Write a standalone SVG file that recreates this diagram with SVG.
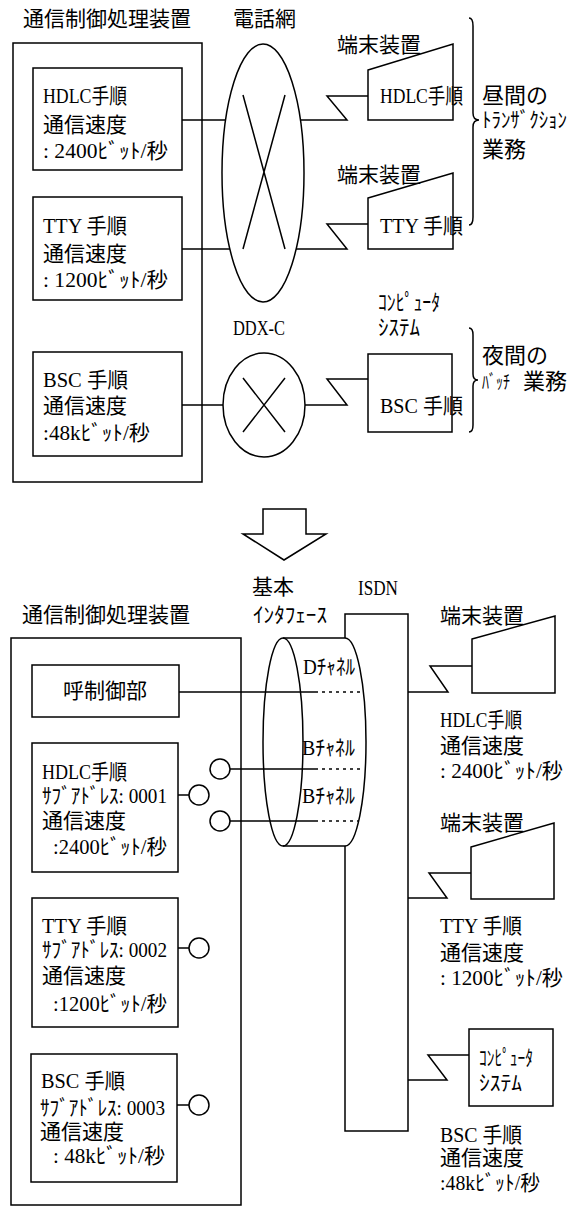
<svg xmlns="http://www.w3.org/2000/svg" width="579" height="1208" viewBox="0 0 579 1208">
<style>
.ln{fill:none;stroke:#000;stroke-width:1.5}
.dt{fill:none;stroke:#000;stroke-width:1.5;stroke-dasharray:3 4}
text{font-family:"Liberation Serif","Noto Sans CJK JP",sans-serif;font-size:21px;fill:#000}
.k{font-size:22px}
.l{font-size:22px}
</style>
<rect width="579" height="1208" fill="#fff"/>

<!-- ===== TOP: current system ===== -->
<g id="title-top">
<text x="23" y="26">通信制御処理装置</text>
<text x="233" y="26" font-size="20">電話網</text>
</g>
<g id="cpu-top">
<rect class="ln" x="13" y="43" width="189" height="439"/>
</g>
<g id="hdlc-top">
<rect class="ln" x="33" y="68" width="149" height="102"/>
<text x="43" y="103" textLength="84" lengthAdjust="spacingAndGlyphs">HDLC手順</text>
<text x="43" y="132">通信速度</text>
<text x="43" y="158" textLength="125" lengthAdjust="spacingAndGlyphs">: 2400ﾋﾞｯﾄ/秒</text>
</g>
<g id="tty-top">
<rect class="ln" x="33" y="197" width="149" height="103"/>
<text x="43" y="233" textLength="84" lengthAdjust="spacingAndGlyphs">TTY 手順</text>
<text x="43" y="261">通信速度</text>
<text x="43" y="287" textLength="125" lengthAdjust="spacingAndGlyphs">: 1200ﾋﾞｯﾄ/秒</text>
</g>
<g id="bsc-top">
<rect class="ln" x="33" y="352" width="149" height="104"/>
<text x="43" y="387" textLength="85" lengthAdjust="spacingAndGlyphs">BSC 手順</text>
<text x="43" y="413">通信速度</text>
<text x="43" y="440" textLength="107" lengthAdjust="spacingAndGlyphs">:48kﾋﾞｯﾄ/秒</text>
</g>
<g id="phone-net">
<ellipse class="ln" cx="263" cy="173" rx="41" ry="129"/>
<path class="ln" d="M243 95L285 249M285 95L243 249"/>
</g>
<g id="ddx">
<text x="233" y="335" textLength="52" lengthAdjust="spacingAndGlyphs">DDX-C</text>
<ellipse class="ln" cx="264" cy="405" rx="41" ry="52"/>
<path class="ln" d="M243 378L285 432M285 378L243 432"/>
</g>
<g id="term1-top">
<text x="337" y="52" font-size="20">端末装置</text>
<polygon class="ln" points="368,70 453,44 453,120 368,120"/>
<text x="380" y="103" textLength="83" lengthAdjust="spacingAndGlyphs">HDLC手順</text>
</g>
<g id="term2-top">
<text x="337" y="182" font-size="20">端末装置</text>
<polygon class="ln" points="368,198 453,173 453,249 368,249"/>
<text x="380" y="233" textLength="83" lengthAdjust="spacingAndGlyphs">TTY 手順</text>
</g>
<g id="computer-top">
<text class="k" x="378" y="310" textLength="62" lengthAdjust="spacingAndGlyphs">ｺﾝﾋﾟｭｰﾀ</text>
<text class="k" x="378" y="335" textLength="42" lengthAdjust="spacingAndGlyphs">ｼｽﾃﾑ</text>
<rect class="ln" x="368" y="354" width="84" height="78"/>
<text x="380" y="413" textLength="83" lengthAdjust="spacingAndGlyphs">BSC 手順</text>
</g>
<g id="day-label">
<path class="ln" d="M469 18Q473 18 473 26L473 113Q473 120 479 120Q473 120 473 127L473 217Q473 225 469 225"/>
<text class="l" x="482" y="103">昼間の</text>
<text x="482" y="127" font-size="19" textLength="85" lengthAdjust="spacingAndGlyphs">ﾄﾗﾝｻﾞｸｼｮﾝ</text>
<text class="l" x="482" y="157">業務</text>
</g>
<g id="night-label">
<path class="ln" d="M469 328Q473 328 473 335L473 374Q473 380 478 380Q473 380 473 386L473 425Q473 432 469 432"/>
<text class="l" x="482" y="363">夜間の</text>
<text x="482" y="389"><tspan font-size="19" textLength="28" lengthAdjust="spacingAndGlyphs">ﾊﾞｯﾁ</tspan> <tspan x="523" font-size="22">業務</tspan></text>
</g>

<g id="connectors">
<path class="ln" d="M182 120H225M182 249H230M182 405H223"/>
<polyline class="ln" points="301,120 347,120 327,96 368,96"/>
<polyline class="ln" points="296,249 347,249 327,224 368,224"/>
<polyline class="ln" points="305,405 347,405 327,379 368,379"/>
<polygon class="ln" points="263,509 306,509 306,534 326,534 284,560 243,534 263,534"/>
<path class="ln" d="M179 692H315M230 769H315M230 821H315M178 795H189M178 948H189M177 1105H189"/>
<path class="dt" d="M315 692H363M315 769H364M315 821H358"/>
<polyline class="ln" points="408,692 448,692 430,666 472,666"/>
<polyline class="ln" points="408,898 447,898 429,873 471,873"/>
<polyline class="ln" points="408,1080 447,1080 428,1055 469,1055"/>
</g>

<!-- ===== BOTTOM: ISDN system ===== -->
<g id="title-bottom">
<text x="22" y="622">通信制御処理装置</text>
</g>
<g id="cpu-bottom">
<rect class="ln" x="11" y="638" width="230" height="567"/>
</g>
<g id="call-ctrl">
<rect class="ln" x="32" y="665" width="147" height="52"/>
<text x="63" y="698">呼制御部</text>
</g>
<g id="hdlc-bottom">
<rect class="ln" x="32" y="743" width="146" height="129"/>
<text x="42" y="779" textLength="85" lengthAdjust="spacingAndGlyphs">HDLC手順</text>
<text x="42" y="803" font-size="22" textLength="125" lengthAdjust="spacingAndGlyphs">ｻﾌﾞｱﾄﾞﾚｽ: 0001</text>
<text x="42" y="828">通信速度</text>
<text x="53" y="854" textLength="114" lengthAdjust="spacingAndGlyphs">:2400ﾋﾞｯﾄ/秒</text>
<circle class="ln" cx="220" cy="769" r="10"/>
<circle class="ln" cx="199" cy="795" r="10"/>
<circle class="ln" cx="220" cy="821" r="10"/>
</g>
<g id="tty-bottom">
<rect class="ln" x="32" y="898" width="146" height="129"/>
<text x="42" y="933" textLength="85" lengthAdjust="spacingAndGlyphs">TTY 手順</text>
<text x="42" y="957" font-size="22" textLength="125" lengthAdjust="spacingAndGlyphs">ｻﾌﾞｱﾄﾞﾚｽ: 0002</text>
<text x="42" y="983">通信速度</text>
<text x="53" y="1011" textLength="114" lengthAdjust="spacingAndGlyphs">:1200ﾋﾞｯﾄ/秒</text>
<circle class="ln" cx="199" cy="948" r="10"/>
</g>
<g id="bsc-bottom">
<rect class="ln" x="31" y="1054" width="146" height="128"/>
<text x="41" y="1088" textLength="84" lengthAdjust="spacingAndGlyphs">BSC 手順</text>
<text x="40" y="1115" font-size="22" textLength="125" lengthAdjust="spacingAndGlyphs">ｻﾌﾞｱﾄﾞﾚｽ: 0003</text>
<text x="40" y="1139">通信速度</text>
<text x="53" y="1163" textLength="112" lengthAdjust="spacingAndGlyphs">: 48kﾋﾞｯﾄ/秒</text>
<circle class="ln" cx="199" cy="1105" r="10"/>
</g>
<g id="isdn">
<text x="358" y="595" textLength="40" lengthAdjust="spacingAndGlyphs">ISDN</text>
<path class="ln" d="M345 638V614H408V1131H345V846"/>
</g>
<g id="basic-interface">
<text x="252" y="594" font-size="20">基本</text>
<text x="253" y="622" font-size="21" textLength="74" lengthAdjust="spacingAndGlyphs">ｲﾝﾀﾌｪｰｽ</text>
<ellipse class="ln" cx="283" cy="742" rx="20" ry="104"/>
<path class="ln" d="M283 638H345A21 104 0 0 1 345 846H283"/>
<text x="303" y="674" font-size="22" textLength="52" lengthAdjust="spacingAndGlyphs">Dﾁｬﾈﾙ</text>
<text x="302" y="755" font-size="22" textLength="53" lengthAdjust="spacingAndGlyphs">Bﾁｬﾈﾙ</text>
<text x="302" y="803" font-size="22" textLength="53" lengthAdjust="spacingAndGlyphs">Bﾁｬﾈﾙ</text>
</g>
<g id="term1-bottom">
<text x="440" y="623" font-size="20">端末装置</text>
<polygon class="ln" points="472,639 555,616 555,693 472,693"/>
<text x="440" y="727" textLength="82" lengthAdjust="spacingAndGlyphs">HDLC手順</text>
<text x="440" y="753">通信速度</text>
<text x="440" y="778" textLength="123" lengthAdjust="spacingAndGlyphs">: 2400ﾋﾞｯﾄ/秒</text>
</g>
<g id="term2-bottom">
<text x="440" y="830" font-size="20">端末装置</text>
<polygon class="ln" points="471,847 554,823 554,899 471,899"/>
<text x="440" y="933" textLength="82" lengthAdjust="spacingAndGlyphs">TTY 手順</text>
<text x="440" y="960">通信速度</text>
<text x="440" y="985" textLength="123" lengthAdjust="spacingAndGlyphs">: 1200ﾋﾞｯﾄ/秒</text>
</g>
<g id="computer-bottom">
<rect class="ln" x="469" y="1029" width="84" height="77"/>
<text x="479" y="1065" font-size="19" textLength="54" lengthAdjust="spacingAndGlyphs">ｺﾝﾋﾟｭｰﾀ</text>
<text x="479" y="1090" font-size="21" textLength="43" lengthAdjust="spacingAndGlyphs">ｼｽﾃﾑ</text>
<text x="440" y="1142" textLength="82" lengthAdjust="spacingAndGlyphs">BSC 手順</text>
<text x="440" y="1165">通信速度</text>
<text x="440" y="1190" textLength="100" lengthAdjust="spacingAndGlyphs">:48kﾋﾞｯﾄ/秒</text>
</g>
</svg>
